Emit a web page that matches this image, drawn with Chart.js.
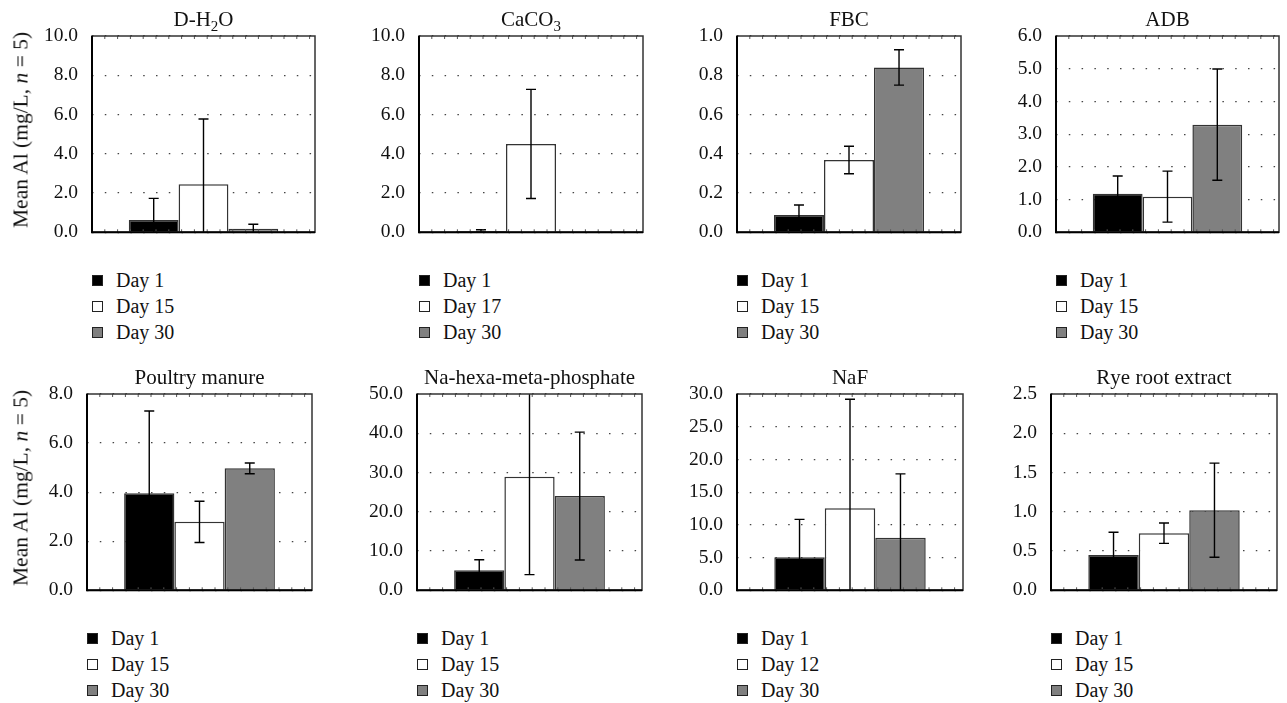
<!DOCTYPE html>
<html>
<head>
<meta charset="utf-8">
<script src="https://cdn.jsdelivr.net/npm/chart.js@4.4.1/dist/chart.umd.min.js"></script>
<style>
  body {
    margin: 0;
    background: #fff;
    width: 1287px;
    height: 703px;
    position: relative;
    overflow: hidden;
    font-family: "Liberation Serif", "Times New Roman", serif;
    color: #111;
  }
  canvas { position: absolute; }
  .legend { position: absolute; font-size: 20px; }
  .legend .row { height: 26px; line-height: 26px; position: relative; padding-left: 24px; white-space: nowrap; }
  .legend .box { position: absolute; left: 0; top: 8px; width: 9px; height: 9px; border: 1px solid #222; }
  .ylabel {
    position: absolute;
    font-size: 21.5px;
    white-space: nowrap;
    transform: translate(-50%, -50%) rotate(-90deg);
  }
</style>
</head>
<body>
<script>
// titres des panneaux ("_x" = indice)
const panelTitles = ["D-H_2O", "CaCO_3", "FBC", "ADB", "Poultry manure", "Na-hexa-meta-phosphate", "NaF", "Rye root extract"];

// libellés de la légende
const firstDayLabels = ["Day 1", "Day 1", "Day 1", "Day 1", "Day 1", "Day 1", "Day 1", "Day 1"];
const midDayLabels = ["Day 15", "Day 17", "Day 15", "Day 15", "Day 15", "Day 15", "Day 12", "Day 15"];
const lastDayLabels = ["Day 30", "Day 30", "Day 30", "Day 30", "Day 30", "Day 30", "Day 30", "Day 30"];

// moyennes et écarts (mg/L)
const day1Mean = [0.63, 0.07, 0.088, 1.18, 3.96, 5.1, 5.06, 0.45];
const day1Err = [1.1, 0.06, 0.051, 0.54, 3.35, 2.67, 5.78, 0.29];
const midMean = [2.45, 4.5, 0.368, 1.09, 2.79, 28.9, 12.53, 0.728];
const midErr = [3.32, 2.78, 0.07, 0.78, 0.84, 24.9, 16.67, 0.13];
const day30Mean = [0.18, 0.02, 0.84, 3.29, 4.97, 24.0, 8.04, 1.02];
const day30Err = [0.23, 0, 0.09, 1.7, 0.22, 16.3, 9.76, 0.6];

// axes
const yMax = [10, 10, 1, 6, 8, 50, 30, 2.5];
const gridStep = [2, 2, 0.2, 1, 1, 10, 5, 0.5];
const labelStep = [2, 2, 0.2, 1, 2, 10, 5, 0.5];

const barColors = ["#000000", "#ffffff", "#808080"];
const FONT = '"Liberation Serif", "Times New Roman", serif';
Chart.defaults.font.family = FONT;
Chart.defaults.color = "#111";

// zones de tracé (gauche, haut, droite, bas)
const plotRects = [
  [92, 36, 315, 232], [419, 36, 643, 232], [737, 36, 961, 232], [1056, 36, 1279, 232],
  [87, 394, 312, 590], [417, 394, 642, 590], [737, 394, 963, 590], [1051, 394, 1277, 590],
];
const AXIS_W = 80, PAD_TOP = 44, PAD_RIGHT = 10, PAD_BOTTOM = 16;

// barres d'erreur
const errorBarPlugin = {
  id: "errorBars",
  afterDatasetsDraw(chart) {
    const ctx = chart.ctx;
    const area = chart.chartArea;
    const yScale = chart.scales.y;
    ctx.save();
    ctx.strokeStyle = "#000";
    ctx.lineWidth = 1.4;
    chart.data.datasets.forEach((ds, i) => {
      const bar = chart.getDatasetMeta(i).data[0];
      const err = ds.errors[0];
      if (!bar || !err) return;
      const m = ds.data[0];
      let yTop = yScale.getPixelForValue(m + err);
      let yBot = yScale.getPixelForValue(m - err);
      const capTop = yTop >= area.top;
      const capBot = yBot <= area.bottom;
      yTop = Math.max(yTop, area.top);
      yBot = Math.min(yBot, area.bottom);
      ctx.beginPath();
      ctx.moveTo(bar.x, yTop);
      ctx.lineTo(bar.x, yBot);
      if (capTop) { ctx.moveTo(bar.x - 5, yTop); ctx.lineTo(bar.x + 5, yTop); }
      if (capBot) { ctx.moveTo(bar.x - 5, yBot); ctx.lineTo(bar.x + 5, yBot); }
      ctx.stroke();
    });
    ctx.restore();
  },
};

// cadre + petites graduations haut/bas
const framePlugin = {
  id: "frame",
  afterDraw(chart) {
    const ctx = chart.ctx;
    const a = chart.chartArea;
    ctx.save();
    ctx.strokeStyle = "#555";
    ctx.lineWidth = 1;
    ctx.beginPath();
    for (let x = a.left + 12.8; x < a.right - 3; x += 12.8) {
      ctx.moveTo(x, a.top); ctx.lineTo(x, a.top + 3);
      ctx.moveTo(x, a.bottom); ctx.lineTo(x, a.bottom - 3);
    }
    ctx.stroke();
    ctx.strokeStyle = "#333";
    ctx.lineWidth = 1.5;
    ctx.strokeRect(a.left, a.top, a.right - a.left, a.bottom - a.top);
    ctx.strokeStyle = "#000";
    ctx.lineWidth = 2;
    ctx.beginPath();
    ctx.moveTo(a.left, a.top); ctx.lineTo(a.left, a.bottom); ctx.lineTo(a.right, a.bottom);
    ctx.stroke();
    ctx.restore();
  },
};

// titre avec indices
const titlePlugin = {
  id: "subTitle",
  afterDraw(chart, args, opts) {
    const ctx = chart.ctx;
    const a = chart.chartArea;
    const parts = [];
    const raw = opts.text;
    for (let i = 0; i < raw.length; i++) {
      if (raw[i] === "_") { parts.push({ t: raw[i + 1], sub: true }); i++; }
      else parts.push({ t: raw[i], sub: false });
    }
    const big = "21px " + FONT, small = "15px " + FONT;
    let w = 0;
    parts.forEach((p) => { ctx.font = p.sub ? small : big; p.w = ctx.measureText(p.t).width; w += p.w; });
    let x = (a.left + a.right) / 2 - w / 2;
    const y = a.top - 10;
    ctx.save();
    ctx.fillStyle = "#111";
    ctx.textBaseline = "alphabetic";
    parts.forEach((p) => {
      ctx.font = p.sub ? small : big;
      ctx.fillText(p.t, x, p.sub ? y + 5 : y);
      x += p.w;
    });
    ctx.restore();
  },
};

function isMultiple(v, step) {
  const r = v / step;
  return Math.abs(r - Math.round(r)) < 1e-6;
}

function buildChart(canvas, p, title) {
  const labels = [firstDayLabels[p], midDayLabels[p], lastDayLabels[p]];
  const means = [day1Mean[p], midMean[p], day30Mean[p]];
  const errs = [day1Err[p], midErr[p], day30Err[p]];

  return new Chart(canvas.getContext("2d"), {
    type: "bar",
    data: {
      labels: [""],
      datasets: labels.map((lab, k) => ({
        label: lab,
        data: [means[k]],
        errors: [errs[k]],
        backgroundColor: barColors[k],
        borderColor: "#333",
        borderWidth: 1.5,
        barPercentage: 1,
        categoryPercentage: 0.67,
      })),
    },
    options: {
      responsive: false,
      animation: false,
      layout: { padding: { left: 0, top: PAD_TOP, right: PAD_RIGHT, bottom: PAD_BOTTOM } },
      plugins: {
        legend: { display: false },
        tooltip: { enabled: false },
        subTitle: { text: title },
      },
      scales: {
        x: { display: false },
        y: {
          min: 0,
          max: yMax[p],
          afterFit(scale) { scale.width = AXIS_W; },
          ticks: {
            stepSize: gridStep[p],
            padding: 14,
            color: "#111",
            font: { family: FONT, size: 19.5 },
            callback: (v) => (isMultiple(v, labelStep[p]) ? Number(v).toFixed(1) : ""),
          },
          grid: { color: "#444", lineWidth: 1.3, drawTicks: false },
          border: { display: false, dash: [1.5, 11.3] },
        },
      },
    },
    plugins: [errorBarPlugin, framePlugin, titlePlugin],
  });
}

panelTitles.forEach((title, p) => {
  const [l, t, r, b] = plotRects[p];
  const canvas = document.createElement("canvas");
  canvas.width = (r - l) + AXIS_W + PAD_RIGHT;
  canvas.height = (b - t) + PAD_TOP + PAD_BOTTOM;
  canvas.style.left = (l - AXIS_W) + "px";
  canvas.style.top = (t - PAD_TOP) + "px";
  document.body.appendChild(canvas);

  let chart = buildChart(canvas, p, title);

  // recaler le bas de la zone de tracé (débord des libellés)
  const diff = Math.round((b - t) + PAD_TOP - chart.chartArea.bottom);
  if (diff !== 0) {
    chart.destroy();
    canvas.height = (b - t) + PAD_TOP + PAD_BOTTOM + diff;
    canvas.style.width = canvas.width + "px";
    canvas.style.height = canvas.height + "px";
    chart = buildChart(canvas, p, title);
  }

  // légende HTML à partir des données du graphique
  const items = Chart.defaults.plugins.legend.labels.generateLabels(chart);
  const legend = document.createElement("div");
  legend.className = "legend";
  legend.style.left = l + "px";
  legend.style.top = (b + 35) + "px";
  legend.innerHTML = items
    .map((it) => `<div class="row"><span class="box" style="background:${it.fillStyle}"></span>${it.text}</div>`)
    .join("");
  document.body.appendChild(legend);

  if (p % 4 === 0) {
    const yl = document.createElement("div");
    yl.className = "ylabel";
    yl.innerHTML = "Mean Al (mg/L, <i>n</i> = 5)";
    yl.style.left = "21px";
    yl.style.top = ((t + b) / 2 - 4) + "px";
    document.body.appendChild(yl);
  }
});
</script>
</body>
</html>
